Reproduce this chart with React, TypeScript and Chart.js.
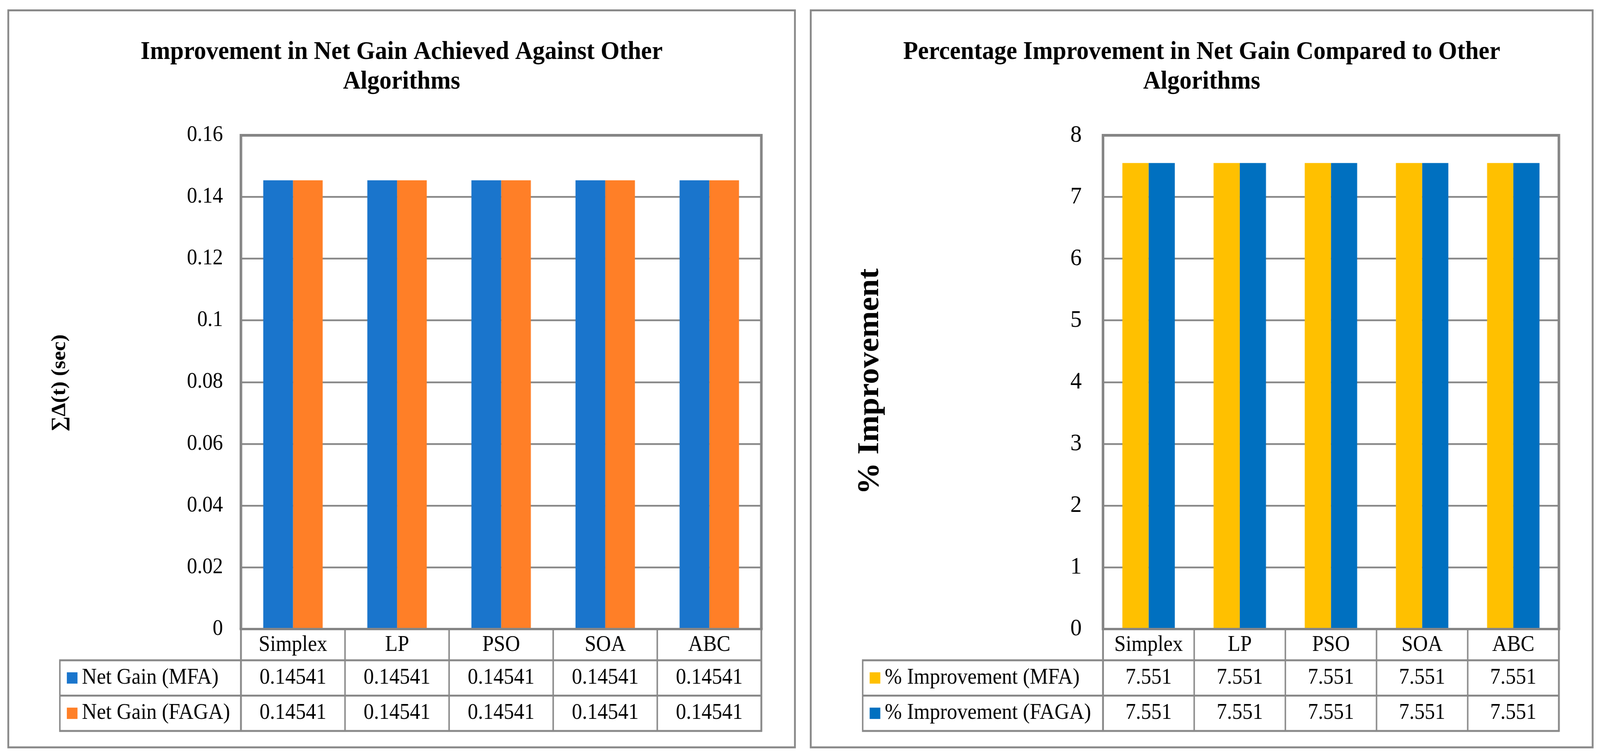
import React, { useEffect, useRef } from 'react';
import { Chart, registerables } from 'chart.js';

Chart.register(...registerables);

// ---------------- data ----------------
const categories = ['Simplex', 'LP', 'PSO', 'SOA', 'ABC'];

const netGainMFA = [0.14541, 0.14541, 0.14541, 0.14541, 0.14541];
const netGainFAGA = [0.14541, 0.14541, 0.14541, 0.14541, 0.14541];
const improvementMFA = [7.551, 7.551, 7.551, 7.551, 7.551];
const improvementFAGA = [7.551, 7.551, 7.551, 7.551, 7.551];

const leftSeriesNames = ['Net Gain (MFA)', 'Net Gain (FAGA)'];
const rightSeriesNames = ['% Improvement (MFA)', '% Improvement (FAGA)'];

const leftTickValues = [0, 0.02, 0.04, 0.06, 0.08, 0.1, 0.12, 0.14, 0.16];
const leftTickLabels = ['0', '0.02', '0.04', '0.06', '0.08', '0.1', '0.12', '0.14', '0.16'];
const rightTickValues = [0, 1, 2, 3, 4, 5, 6, 7, 8];
const rightTickLabels = ['0', '1', '2', '3', '4', '5', '6', '7', '8'];

const leftTitle = ['Improvement in Net Gain Achieved Against Other', 'Algorithms'];
const rightTitle = ['Percentage Improvement in Net Gain Compared to Other', 'Algorithms'];
const leftYTitle = '\u2211\u0394(t) (sec)';
const rightYTitle = '% Improvement';

// ---------------- styling / layout ----------------
const PAGE_W = 4357;
const PAGE_H = 1931;
const GRID = '#898989';
const FRAME = '#858585';
const SERIF = '"Liberation Serif", "Times New Roman", serif';

interface Series { name: string; data: number[]; color: string; }
interface PanelCfg {
  offsetX: number;
  width: number;
  plotLeft: number;
  plotRight: number;
  plotTop: number;
  plotBottom: number;
  border: [number, number, number, number];
  titleLines: string[];
  yTitle: string;
  yTitleFont: number;
  yTitleX: number;
  yTitleY: number;
  tickSize: number;
  tickPad: number;
  tableLeft: number;
  series: Series[];
  tickValues: number[];
  tickLabels: string[];
  min: number;
  max: number;
  catPct: number;
}

const leftCfg: PanelCfg = {
  offsetX: 0,
  width: 2190,
  plotLeft: 656,
  plotRight: 2073,
  plotTop: 346.5,
  plotBottom: 1611,
  border: [22.5, 26.5, 2164.5, 1914],
  titleLines: leftTitle,
  yTitle: leftYTitle,
  yTitleFont: 55,
  yTitleX: 163,
  yTitleY: 981,
  tickSize: 56,
  tickPad: 49,
  tableLeft: 163,
  series: [
    { name: leftSeriesNames[0], data: netGainMFA, color: '#1A75CC' },
    { name: leftSeriesNames[1], data: netGainFAGA, color: '#FF7F27' },
  ],
  tickValues: leftTickValues,
  tickLabels: leftTickLabels,
  min: 0,
  max: 0.16,
  catPct: 0.571,
};

const rightCfg: PanelCfg = {
  offsetX: 2190,
  width: PAGE_W - 2190,
  plotLeft: 813.5,
  plotRight: 2055,
  plotTop: 346.5,
  plotBottom: 1611,
  border: [17.5, 26.5, 2147, 1914],
  titleLines: rightTitle,
  yTitle: rightYTitle,
  yTitleFont: 82,
  yTitleX: 180,
  yTitleY: 977,
  tickSize: 62,
  tickPad: 58,
  tableLeft: 159,
  series: [
    { name: rightSeriesNames[0], data: improvementMFA, color: '#FFC000' },
    { name: rightSeriesNames[1], data: improvementFAGA, color: '#0070C0' },
  ],
  tickValues: rightTickValues,
  tickLabels: rightTickLabels,
  min: 0,
  max: 8,
  catPct: 0.575,
};

function makeDecorPlugin(cfg: PanelCfg) {
  return {
    id: 'decor',
    afterDraw(chart: any) {
      const ctx: CanvasRenderingContext2D = chart.ctx;
      const a = chart.chartArea;
      const xs = chart.scales.x;
      ctx.save();

      // panel border
      const [bx0, by0, bx1, by1] = cfg.border;
      ctx.strokeStyle = GRID;
      ctx.lineWidth = 5;
      ctx.strokeRect(bx0, by0, bx1 - bx0, by1 - by0);

      // title
      ctx.fillStyle = '#000';
      ctx.font = `bold 66px ${SERIF}`;
      ctx.textAlign = 'center';
      ctx.textBaseline = 'alphabetic';
      const cx = (bx0 + bx1) / 2;
      cfg.titleLines.forEach((t, i) => ctx.fillText(t, cx, 151 + i * 76));

      // y axis title
      ctx.save();
      ctx.translate(cfg.yTitleX, cfg.yTitleY);
      ctx.rotate(-Math.PI / 2);
      ctx.font = `bold ${cfg.yTitleFont}px ${SERIF}`;
      ctx.textAlign = 'center';
      ctx.textBaseline = 'middle';
      ctx.fillText(cfg.yTitle, 0, 0);
      ctx.restore();

      // data table
      const n = categories.length;
      const colW = (a.right - a.left) / n;
      const hTop = a.bottom;
      const hBot = 1691;
      const rowH = 90.5;
      const tBot = hBot + rowH * cfg.series.length;

      ctx.strokeStyle = GRID;
      ctx.lineWidth = 4;
      for (let i = 1; i < n; i++) {
        const x = xs.getPixelForValue(i) - colW / 2;
        ctx.beginPath();
        ctx.moveTo(x, hTop);
        ctx.lineTo(x, tBot);
        ctx.stroke();
      }
      ctx.lineWidth = 5;
      [a.left, a.right].forEach((x: number) => {
        ctx.beginPath();
        ctx.moveTo(x, hTop);
        ctx.lineTo(x, tBot + 2);
        ctx.stroke();
      });
      ctx.lineWidth = 4;
      ctx.beginPath();
      ctx.moveTo(cfg.tableLeft, hBot - 2);
      ctx.lineTo(cfg.tableLeft, tBot + 2);
      ctx.stroke();
      ctx.lineWidth = 5;
      for (let r = 0; r <= cfg.series.length; r++) {
        const y = hBot + r * rowH;
        ctx.beginPath();
        ctx.moveTo(cfg.tableLeft - 2, y);
        ctx.lineTo(a.right + 2, y);
        ctx.stroke();
      }

      // header text
      ctx.fillStyle = '#000';
      ctx.font = `56px ${SERIF}`;
      ctx.textAlign = 'center';
      ctx.textBaseline = 'middle';
      categories.forEach((c, i) => ctx.fillText(c, xs.getPixelForValue(i), (hTop + hBot) / 2 + 1));

      // rows
      cfg.series.forEach((s, r) => {
        const cy = hBot + rowH * r + rowH / 2;
        ctx.fillStyle = s.color;
        ctx.fillRect(cfg.tableLeft + 19, cy - 14.5, 29, 29);
        ctx.fillStyle = '#000';
        ctx.textAlign = 'left';
        ctx.fillText(s.name, cfg.tableLeft + 60, cy);
        ctx.textAlign = 'center';
        s.data.forEach((v, i) => ctx.fillText(String(v), xs.getPixelForValue(i), cy));
      });

      // plot frame
      ctx.strokeStyle = FRAME;
      ctx.lineWidth = 7;
      ctx.beginPath();
      ctx.moveTo(a.left - 3.5, a.top);
      ctx.lineTo(a.right + 3.5, a.top);
      ctx.moveTo(a.left, a.top);
      ctx.lineTo(a.left, a.bottom);
      ctx.moveTo(a.right, a.top);
      ctx.lineTo(a.right, a.bottom);
      ctx.stroke();
      ctx.lineWidth = 6;
      ctx.beginPath();
      ctx.moveTo(a.left - 3.5, a.bottom);
      ctx.lineTo(a.right + 3.5, a.bottom);
      ctx.stroke();

      ctx.restore();
    },
  };
}

function Panel({ cfg }: { cfg: PanelCfg }) {
  const ref = useRef<HTMLCanvasElement | null>(null);
  useEffect(() => {
    if (!ref.current) return;
    const chart = new Chart(ref.current, {
      type: 'bar',
      data: {
        labels: categories,
        datasets: cfg.series.map((s) => ({
          label: s.name,
          data: s.data,
          backgroundColor: s.color,
          borderWidth: 0,
          barPercentage: 1,
          categoryPercentage: cfg.catPct,
        })),
      },
      options: {
        responsive: false,
        animation: false,
        devicePixelRatio: 1,
        layout: {
          padding: {
            left: 0,
            right: cfg.width - cfg.plotRight,
            top: cfg.plotTop,
            bottom: PAGE_H - cfg.plotBottom,
          },
        },
        plugins: {
          legend: { display: false },
          tooltip: { enabled: false },
          title: { display: false },
        },
        scales: {
          x: { display: false },
          y: {
            min: cfg.min,
            max: cfg.max,
            afterBuildTicks: (s: any) => {
              s.ticks = cfg.tickValues.map((v) => ({ value: v }));
            },
            afterFit: (s: any) => {
              s.width = cfg.plotLeft;
            },
            ticks: {
              autoSkip: false,
              color: '#000',
              padding: cfg.tickPad,
              font: { family: SERIF, size: cfg.tickSize },
              callback: (_v: any, i: number) => cfg.tickLabels[i],
            },
            grid: { color: GRID, lineWidth: 4.5, drawTicks: false },
            border: { display: false },
          },
        },
      } as any,
      plugins: [makeDecorPlugin(cfg)],
    });
    return () => chart.destroy();
  }, [cfg]);
  return (
    <canvas
      ref={ref}
      width={cfg.width}
      height={PAGE_H}
      style={{
        position: 'absolute',
        left: `${(cfg.offsetX / PAGE_W) * 100}%`,
        top: 0,
        width: `${(cfg.width / PAGE_W) * 100}%`,
        height: '100%',
      }}
    />
  );
}

export default function App() {
  return (
    <div
      style={{
        position: 'fixed',
        left: 0,
        top: 0,
        width: '100vw',
        height: '100vh',
        background: '#fff',
        overflow: 'hidden',
      }}
    >
      <Panel cfg={leftCfg} />
      <Panel cfg={rightCfg} />
    </div>
  );
}
